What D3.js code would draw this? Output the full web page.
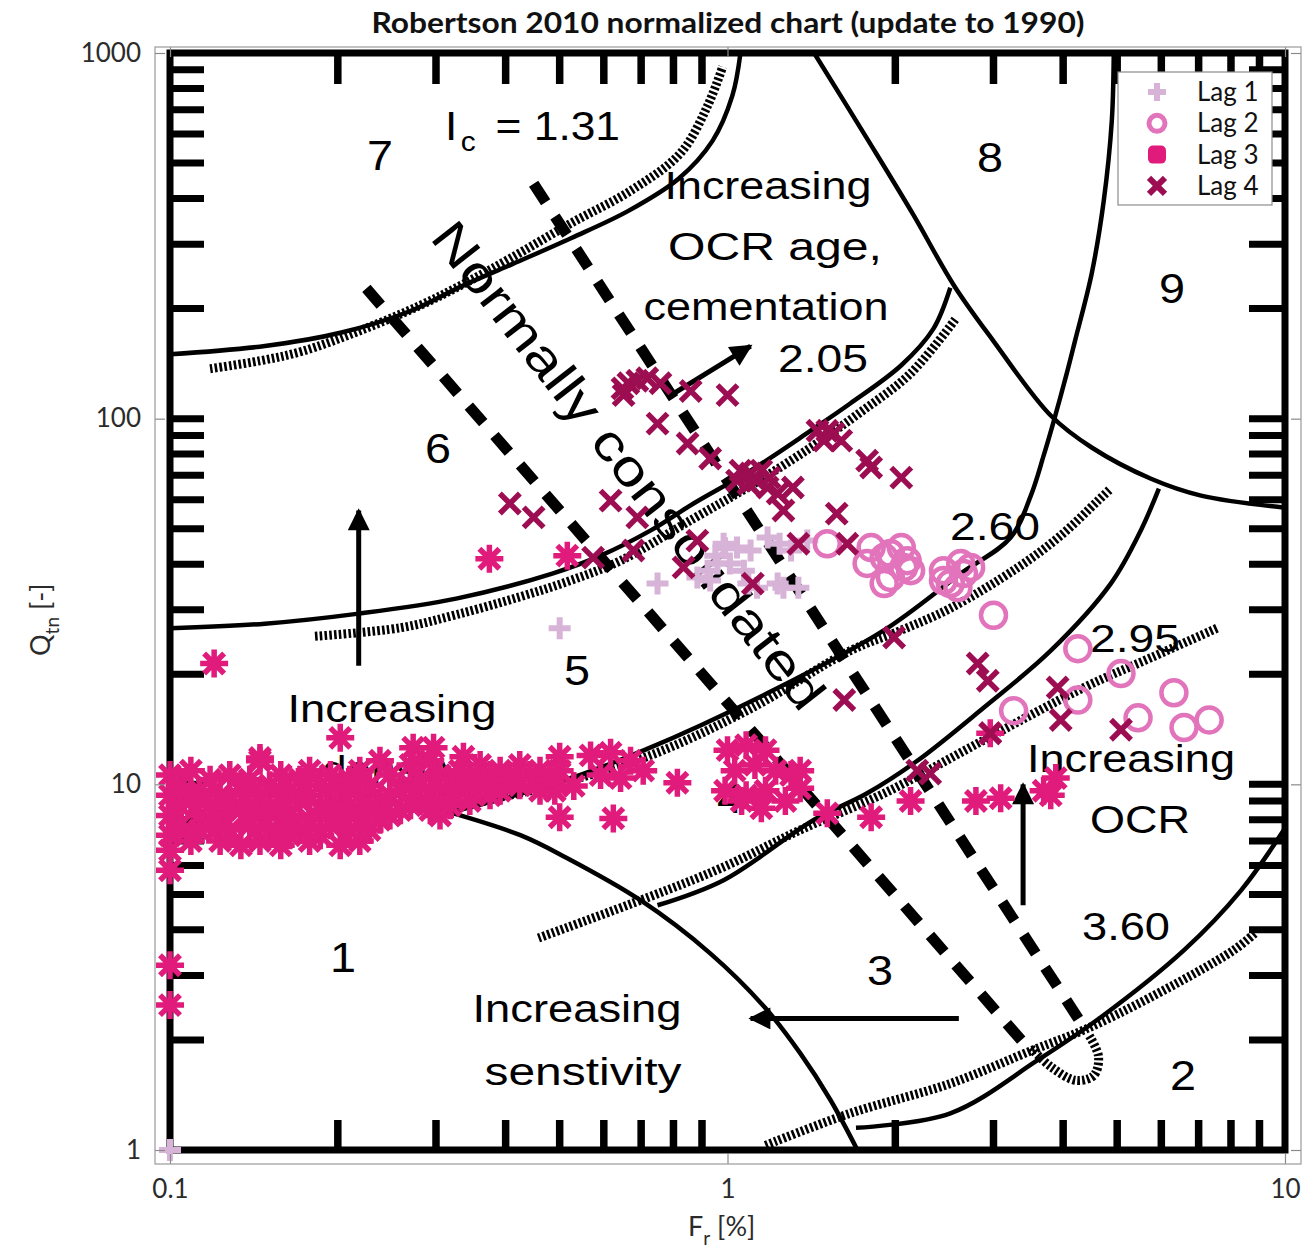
<!DOCTYPE html>
<html>
<head>
<meta charset="utf-8">
<script src="https://cdn.jsdelivr.net/npm/d3@7"></script>
<style>
  body { margin: 0; background: #fff; }
  svg { display: block; }
</style>
</head>
<body>
<script>
// ---------- Axis ticks ----------
const frTicks = [0.1, 1, 10];
const frTickLabels = ["0.1", "1", "10"];
const qTicks = [1, 10, 100, 1000];
const qTickLabels = ["1", "10", "100", "1000"];

// ---------- Soil behaviour type zone boundaries [Fr %, Qtn] ----------
const bound76 = [[0.1,150],[0.148,158],[0.203,172],[0.27,197],[0.331,229],[0.412,265],[0.525,312],[0.664,370],[0.817,453],[0.94,575],[1.02,763],[1.055,1000]];
const bound65 = [[0.1,26.7],[0.148,27.5],[0.218,29.3],[0.326,32.2],[0.485,37.7],[0.592,42.2],[0.727,49.4],[0.869,58.6],[1.10,72.1],[1.41,92.7],[1.66,110],[2.05,140],[2.34,176],[2.51,228]];
// zone 4/5 boundary continuing up as the 8/9 divide
const bound54 = [[0.318,8.38],[0.495,10.1],[0.709,12.4],[1.21,18.1],[1.91,26.4],[2.62,37.7],[3.22,47.3],[3.50,61.6],[3.69,79.2],[3.85,98.8],[4.06,133],[4.20,163],[4.50,249],[4.73,394],[4.89,652],[4.93,1000]];
const bound43 = [[0.749,4.67],[0.984,5.47],[1.43,8.0],[1.78,9.45],[2.19,11.6],[2.88,16.2],[3.80,23.2],[4.87,35.4],[5.51,49.4],[5.94,64.4]];
const bound1 = [[0.318,8.38],[0.425,7.26],[0.512,6.32],[0.698,4.82],[0.931,3.45],[1.165,2.46],[1.35,1.84],[1.53,1.37],[1.71,1.0]];
const bound23 = [[1.70,1.15],[2.51,1.26],[3.60,1.76],[4.68,2.31],[6.59,3.52],[8.34,5.13],[10,7.58]];
const bound8 = [[1.43,1000],[1.79,575],[2.15,363],[2.55,231],[3.00,163],[3.80,102],[4.50,83.4],[5.75,68.5],[7.07,61.6],[10,57.1]];

// ---------- Ic contours (hatched) ----------
const ic131 = [[0.118,137],[0.145,144],[0.173,153],[0.219,174],[0.281,204],[0.337,234],[0.407,274],[0.525,343],[0.67,420],[0.824,533],[0.921,717],[0.98,916]];
const ic205 = [[0.182,25.4],[0.259,26.8],[0.326,29.1],[0.425,32.6],[0.523,36.1],[0.643,40.9],[0.869,53.3],[1.10,65.6],[1.41,83.4],[1.73,104],[2.13,133],[2.57,188]];
const ic260 = [[0.305,8.49],[0.391,9.21],[0.485,9.94],[0.727,12.0],[1.10,16.1],[1.66,23.2],[2.05,26.4],[2.51,30.3],[3.32,39.2],[3.96,47.9],[4.62,59.7],[4.87,64.4]];
const ic295 = [[0.458,3.80],[0.721,4.91],[0.971,5.89],[1.35,7.5],[1.91,9.45],[2.88,13.2],[4.36,18.4],[5.75,22.2],[7.58,26.8]];
const ic360 = [[1.17,1.03],[1.66,1.26],[2.51,1.52],[3.54,1.88],[4.36,2.13],[5.75,2.62],[8.09,3.52],[8.87,3.94]];
const ncHook = [[3.50,1.90],[3.80,1.69],[4.22,1.55],[4.54,1.60],[4.63,1.80],[4.45,2.06]];

// ---------- Normally consolidated band (dashed) ----------
const ncLower = [[0.225,227],[3.39,1.97]];
const ncUpper = [[0.449,439],[4.39,2.13]];

// ---------- Trend arrows [from, to] ----------
const arrowOcrAge = [[0.80,117],[1.10,158]];
const arrowDensity = [[0.218,21.1],[0.218,56.1]];
const arrowOcr = [[3.39,4.67],[3.39,10.0]];
const arrowSens = [[2.60,2.29],[1.10,2.29]];

// ---------- CPT data [Fr %, Qtn] ----------
const lag1 = [[0.1,1.0],[0.50,26.7],[0.749,35.4],[0.984,45.5],[1.04,44.4],[1.10,43.6],[0.96,40.2],[0.921,38.4],[0.931,36.1],[1.01,40.2],[1.07,38.4],[1.18,47.3],[1.24,45.5],[1.30,43.6],[1.26,34.5],[1.34,34.5],[0.883,36.8],[1.13,34.5],[1.23,35.4],[1.09,35.4],[1.39,46.4],[0.951,42.2],[0.99,44.2]];

const lag2 = [[1.51,45.5],[1.81,44.4],[1.91,41.7],[2.05,44.4],[2.10,40.9],[1.78,40.2],[1.96,36.8],[1.91,35.4],[2.44,38.4],[2.62,40.2],[2.73,39.2],[2.51,35.4],[2.13,38.4],[1.96,42.8],[2.07,39.2],[2.44,36.1],[2.65,37.7],[2.59,34.5],[3.00,29.0],[4.25,23.5],[5.08,20.1],[6.32,17.8],[3.26,15.9],[4.25,17.0],[5.45,15.2],[6.59,14.3],[7.31,15.0]];

const lag3 = [
  [0.120,21.4],[0.374,41.4],[0.516,42.2],[0.202,13.4],[0.1,5.82],[0.1,3.20],[0.1,2.49],[2.96,13.8],
  [0.50,8.13],[0.624,8.07],[1.51,8.33],[1.81,8.13],[2.13,9.0],[2.79,9.0],[3.09,9.16],[3.69,9.6],[3.88,10.4],[3.80,9.33],[0.813,10.1],
  [1.00,12.4],[1.08,12.8],[1.17,12.4],[1.03,10.9],[1.12,11.3],[1.22,10.9],[1.30,10.6],[1.35,10.9],[0.99,9.6],[1.08,9.33],[1.17,9.6],[1.27,9.0],[1.35,9.75],[1.15,8.6],[1.06,9.0],
  [0.568,12.0],[0.617,12.2],[0.670,11.6],[0.592,10.6],[0.643,10.4],[0.706,10.9],[0.50,11.9],[0.53,9.9],[0.49,9.6],
  [0.145,11.8],[0.273,12.6],[0.297,12.6],[0.336,11.9],
  [0.100,10.6],[0.100,9.33],[0.100,8.22],[0.100,7.26],[0.100,6.6],
  [0.104,9.94],[0.104,8.76],[0.104,7.73],
  [0.109,10.9],[0.109,9.0],[0.109,7.0],
  [0.113,9.6],[0.113,8.22],[0.113,7.5],
  [0.118,10.3],[0.118,8.76],[0.118,7.73],
  [0.123,9.33],[0.123,8.22],[0.123,7.0],
  [0.128,10.6],[0.128,9.0],[0.128,7.5],
  [0.134,9.6],[0.134,8.5],[0.134,6.81],
  [0.139,10.3],[0.139,8.76],[0.139,7.73],
  [0.145,11.6],[0.145,9.33],[0.145,8.22],[0.145,7.0],
  [0.151,9.94],[0.151,8.5],[0.151,7.5],
  [0.158,10.6],[0.158,9.0],[0.158,7.73],[0.158,6.81],
  [0.164,9.6],[0.164,8.22],[0.164,7.26],
  [0.171,10.3],[0.171,9.0],[0.171,7.5],
  [0.178,10.9],[0.178,9.33],[0.178,8.0],[0.178,7.0],
  [0.186,9.94],[0.186,8.5],[0.186,7.26],
  [0.194,10.6],[0.194,9.0],[0.194,7.73],
  [0.202,9.6],[0.202,8.22],[0.202,6.81],
  [0.210,10.3],[0.210,8.76],[0.210,7.5],
  [0.219,10.9],[0.219,9.33],[0.219,8.0],[0.219,7.0],
  [0.228,9.94],[0.228,8.5],[0.228,7.5],
  [0.238,11.6],[0.238,9.0],[0.238,8.0],
  [0.248,10.6],[0.248,9.33],[0.248,8.22],
  [0.259,9.6],[0.259,8.5],
  [0.270,11.3],[0.270,9.94],[0.270,8.76],
  [0.281,10.3],[0.281,9.0],
  [0.293,11.6],[0.293,9.6],[0.293,8.5],
  [0.305,10.6],[0.305,9.0],[0.305,8.22],
  [0.318,9.94],[0.318,8.76],
  [0.331,10.9],[0.331,9.6],
  [0.345,10.3],[0.345,9.0],
  [0.360,11.3],[0.360,9.94],
  [0.375,10.6],[0.375,9.33],
  [0.391,10.9],[0.391,9.6],
  [0.407,10.3],
  [0.424,11.3],[0.424,9.94],
  [0.442,10.6],
  [0.461,10.9],[0.461,9.6],
  [0.480,10.3],
  [0.500,10.9]
];

const lag4 = [[0.648,121],[0.664,125],[0.689,127],[0.718,129],[0.651,116],[0.758,125],[0.859,119],[1.00,116],[0.749,96.9],[0.848,85.5],[0.931,77.8],
  [1.055,72.1],[1.10,70.8],[1.15,72.1],[1.13,67.7],[1.18,64.8],[1.09,66.4],[1.23,62.4],[1.19,69.0],[1.04,67.7],[1.31,64.8],[1.26,56.1],
  [1.45,92.7],[1.51,92.7],[1.55,91.0],[1.60,87.1],[1.49,87.1],[1.78,76.8],[1.81,73.5],[2.05,69.0],[1.57,55.0],[1.34,45.5],[1.64,45.5],
  [0.617,59.7],[0.689,53.7],[0.678,43.6],[0.883,46.4],[0.834,39.2],[1.11,35.4],[0.574,41.7],[0.407,58.6],[0.449,53.7],
  [1.62,17.0],[2.19,10.9],[2.31,10.7],[2.96,13.8],[1.99,25.2],[2.81,21.4],[2.93,19.2],[3.91,18.4],[3.96,15.0],[5.08,14.1]];

const seriesNames = ["Lag 1", "Lag 2", "Lag 3", "Lag 4"];
const seriesColors = ["#d8b3d8", "#e274bc", "#e01b7b", "#9c0d51"];

// ---------- Scales ----------
const W = 1303, H = 1250;
const x = d3.scaleLog().domain([0.1, 10]).range([170, 1285]);
const y = d3.scaleLog().domain([1, 1000]).range([1150, 53]);
const box = { l: 155, r: 1301, t: 47, b: 1164 };

const svg = d3.select("body").append("svg").attr("width", W).attr("height", H)
  .attr("font-family", "Liberation Sans, Arial, sans-serif");

const defs = svg.append("defs");
defs.append("marker").attr("id", "head").attr("viewBox", "0 0 10 10")
  .attr("refX", 9).attr("refY", 5).attr("markerWidth", 28).attr("markerHeight", 22)
  .attr("markerUnits", "userSpaceOnUse").attr("orient", "auto")
  .append("path").attr("d", "M0,0L10,5L0,10z").attr("fill", "#000");

// ---------- Chart frame with heavy minor ticks ----------
const frame = svg.append("g");
const xMinor = [0.2,0.3,0.4,0.5,0.6,0.7,0.8,0.9,2,3,4,5,6,7,8,9];
const yMinor = [2,3,4,5,6,7,8,9,10,20,30,40,50,60,70,80,90,100,200,300,400,500,600,700,800,900];
frame.selectAll(".xt").data(xMinor).join("path")
  .attr("d", d => `M${x(d)},${y(1)}V${y(1) - 30}M${x(d)},${y(1000)}V${y(1000) + 31}`)
  .attr("stroke", "#000").attr("stroke-width", 7.5);
frame.selectAll(".yt").data(yMinor).join("path")
  .attr("d", d => `M${x(0.1)},${y(d)}H${x(0.1) + 34}M${x(10)},${y(d)}H${x(10) - 36}`)
  .attr("stroke", "#000").attr("stroke-width", 7);
frame.append("rect").attr("x", x(0.1)).attr("y", y(1000))
  .attr("width", x(10) - x(0.1)).attr("height", y(1) - y(1000))
  .attr("fill", "none").attr("stroke", "#000").attr("stroke-width", 7);

// ---------- Boundaries ----------
const smooth = d3.line().x(d => x(d[0])).y(d => y(d[1])).curve(d3.curveCatmullRom.alpha(0.5));
const straight = d3.line().x(d => x(d[0])).y(d => y(d[1]));
const bg = svg.append("g").attr("fill", "none");

[ic131, ic205, ic260, ic295, ic360, ncHook].forEach(line => {
  bg.append("path").attr("d", smooth(line)).attr("stroke", "#000")
    .attr("stroke-width", 9).attr("stroke-dasharray", "2.6 2.2");
});
[bound76, bound65, bound54, bound43, bound1, bound23, bound8].forEach(line => {
  bg.append("path").attr("d", smooth(line)).attr("stroke", "#000").attr("stroke-width", 4.5);
});
[ncLower, ncUpper].forEach(line => {
  bg.append("path").attr("d", straight(line)).attr("stroke", "#000")
    .attr("stroke-width", 11).attr("stroke-dasharray", "22 17");
});
[arrowOcrAge, arrowDensity, arrowOcr, arrowSens].forEach(a => {
  bg.append("path").attr("d", straight(a)).attr("stroke", "#000")
    .attr("stroke-width", 5).attr("marker-end", "url(#head)");
});

// ---------- Zone and trend annotations ----------
const notes = svg.append("g").attr("fill", "#000");
function note(t, cx, by, fs, w) {
  const el = notes.append("text").attr("x", cx).attr("y", by).attr("font-size", fs)
    .attr("text-anchor", "middle").text(t);
  if (w) el.attr("textLength", w).attr("lengthAdjust", "spacingAndGlyphs");
  return el;
}
note("7", 380, 170, 42, 26);
note("8", 990, 172, 42, 26);
note("9", 1172, 303, 42, 26);
note("6", 438, 463, 42, 26);
note("5", 577, 685, 42, 26);
note("4", 730, 813, 42, 26);
note("1", 343, 972, 42, 26);
note("3", 880, 985, 42, 26);
note("2", 1183, 1090, 42, 26);
note("2.05", 823, 372, 38, 90);
note("2.60", 995, 540, 38, 90);
note("2.95", 1135, 652, 38, 90);
note("3.60", 1126, 940, 38, 88);
note("Increasing", 768, 199, 38, 207);
note("OCR  age,", 775, 260, 38, 214);
note("cementation", 766, 320, 38, 245);
note("Increasing", 392, 722, 38, 209);
note("density", 392, 783, 38, 140);
note("Increasing", 1131, 772, 38, 208);
note("OCR", 1140, 833, 38, 100);
note("Increasing", 577, 1022, 38, 209);
note("senstivity", 583, 1085, 38, 197);

const ic = notes.append("text").attr("x", 445).attr("y", 140).attr("font-size", 40);
ic.append("tspan").text("I");
ic.append("tspan").attr("font-size", 27).attr("dy", 11).attr("dx", 3).text("c");
ic.append("tspan").attr("dy", -11).attr("dx", 18).text("= 1.31");
ic.attr("textLength", 175).attr("lengthAdjust", "spacingAndGlyphs");

notes.append("text").attr("transform", "translate(615,476) rotate(52)")
  .attr("font-size", 50).attr("text-anchor", "middle")
  .attr("textLength", 604).attr("lengthAdjust", "spacingAndGlyphs")
  .text("Normally consolidated");

// ---------- Data markers ----------
const marks = svg.append("g").attr("fill", "none");
const shapes = [
  "M-11,0H11M0,-11V11",
  null,
  "M-14,0H14M0,-14V14M-10,-10L10,10M-10,10L10,-10",
  "M-10,-10L10,10M-10,10L10,-10"
];
const widths = [6, 4.5, 5.5, 5.5];
[lag1, lag2, lag3, lag4].forEach((data, i) => {
  const g = marks.append("g").attr("stroke", seriesColors[i]).attr("stroke-width", widths[i]);
  if (i === 1) {
    g.selectAll("circle").data(data).join("circle")
      .attr("cx", d => x(d[0])).attr("cy", d => y(d[1])).attr("r", 12.5);
  } else {
    g.selectAll("path").data(data).join("path")
      .attr("transform", d => `translate(${x(d[0])},${y(d[1])})`).attr("d", shapes[i]);
  }
});

// ---------- Outer axes ----------
const axisFont = "Lato, 'Open Sans', sans-serif";
function styleAxis(g) {
  g.select(".domain").remove();
  g.selectAll(".tick line").attr("stroke", "#8a8a8a").attr("stroke-width", 1.2);
  g.selectAll(".tick text").attr("fill", "#2b2b2b").attr("font-size", 26).attr("font-family", axisFont);
}
svg.append("g").attr("transform", `translate(0,${box.b})`)
  .call(d3.axisBottom(x).tickValues(frTicks).tickFormat((d, i) => frTickLabels[i]).tickSize(-10).tickPadding(16))
  .call(styleAxis);
svg.append("g").attr("transform", `translate(0,${box.t})`)
  .call(d3.axisTop(x).tickValues(frTicks).tickFormat("").tickSize(-10)).call(styleAxis);
svg.append("g").attr("transform", `translate(${box.l},0)`)
  .call(d3.axisLeft(y).tickValues(qTicks).tickFormat((d, i) => qTickLabels[i]).tickSize(-10).tickPadding(14))
  .call(styleAxis);
svg.append("g").attr("transform", `translate(${box.r},0)`)
  .call(d3.axisRight(y).tickValues(qTicks).tickFormat("").tickSize(-10)).call(styleAxis);
svg.append("rect").attr("x", box.l).attr("y", box.t).attr("width", box.r - box.l).attr("height", box.b - box.t)
  .attr("fill", "none").attr("stroke", "#9a9a9a").attr("stroke-width", 1.2);

// Axis titles
const xt = svg.append("text").attr("x", 688).attr("y", 1236).attr("font-size", 27)
  .attr("font-family", axisFont).attr("fill", "#2b2b2b");
xt.append("tspan").text("F");
xt.append("tspan").attr("font-size", 19).attr("dy", 9).text("r");
xt.append("tspan").attr("dy", -9).text(" [%]");

const yt = svg.append("text").attr("transform", "translate(50,656) rotate(-90)").attr("font-size", 27)
  .attr("font-family", axisFont).attr("fill", "#2b2b2b");
yt.append("tspan").text("Q");
yt.append("tspan").attr("font-size", 19).attr("dy", 9).text("tn");
yt.append("tspan").attr("dy", -9).text(" [-]");

// Title
svg.append("text").attr("x", 728).attr("y", 33).attr("text-anchor", "middle")
  .attr("font-family", axisFont).attr("font-weight", "bold").attr("font-size", 28)
  .attr("textLength", 713).attr("lengthAdjust", "spacingAndGlyphs").attr("fill", "#111")
  .text("Robertson 2010 normalized chart (update to 1990)");

// ---------- Legend ----------
const lg = svg.append("g");
lg.append("rect").attr("x", 1118).attr("y", 72).attr("width", 154).attr("height", 133)
  .attr("fill", "#fff").attr("stroke", "#8c8c8c").attr("stroke-width", 1.2);
const legendIcons = [
  g => g.append("path").attr("d", "M-9,0H9M0,-9V9").attr("stroke", seriesColors[0]).attr("stroke-width", 6).attr("fill", "none"),
  g => g.append("circle").attr("r", 8).attr("stroke", seriesColors[1]).attr("stroke-width", 5).attr("fill", "none"),
  g => g.append("rect").attr("x", -9).attr("y", -9).attr("width", 18).attr("height", 18).attr("rx", 5).attr("fill", seriesColors[2]),
  g => g.append("path").attr("d", "M-8,-8L8,8M-8,8L8,-8").attr("stroke", seriesColors[3]).attr("stroke-width", 6).attr("fill", "none")
];
seriesNames.forEach((name, i) => {
  const cy = 92 + i * 31.3;
  legendIcons[i](lg.append("g").attr("transform", `translate(1157,${cy})`));
  lg.append("text").attr("x", 1197).attr("y", cy + 9).attr("font-family", axisFont)
    .attr("font-size", 26).attr("fill", "#111").text(name);
});
</script>
</body>
</html>
